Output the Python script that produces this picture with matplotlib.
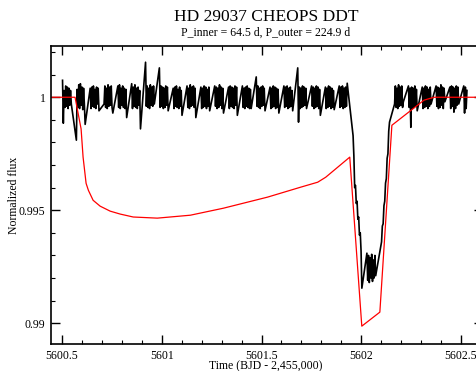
import numpy as np
import matplotlib
matplotlib.use('Agg')
import matplotlib.pyplot as plt
from matplotlib.ticker import MultipleLocator

plt.rcParams['font.family'] = ['Liberation Serif', 'DejaVu Serif']

# model light curve (red)
model_t = [5600.44, 5600.5653, 5600.5955, 5600.6055, 5600.6206, 5600.6322, 5600.6558,
           5600.6910, 5600.7412, 5600.7915, 5600.8568, 5600.9774, 5601.1432, 5601.3090,
           5601.5302, 5601.6960, 5601.7814, 5601.8216, 5601.9422, 5602.0025, 5602.0930,
           5602.1533, 5602.3141, 5602.3643, 5602.62]
model_f = [1.0, 1.0, 0.99860, 0.99735, 0.99619, 0.99588, 0.99544,
           0.99518, 0.99496, 0.99483, 0.99470, 0.99465, 0.99478, 0.99509,
           0.99558, 0.99602, 0.99624, 0.99646, 0.99735, 0.98987, 0.99049,
           0.99876, 0.99987, 1.0, 1.0]

# CHEOPS data: one block per orbit, start time and flux offsets in ppm
cadence = 0.004
orbit_start = [5600.5025, 5600.5719, 5600.6412, 5600.7106, 5600.7799, 5600.8492,
               5600.9186, 5600.9879, 5601.0573, 5601.1266, 5601.1960, 5601.2653,
               5601.3347, 5601.4040, 5601.4734, 5601.5427, 5601.6121, 5601.6814,
               5601.7508, 5601.8201, 5601.8894, 5601.9588, 5602.0281, 5602.0975,
               5602.1668, 5602.2362, 5602.3055, 5602.3749, 5602.4442, 5602.5136]
orbit_ppm = [
    [750, -1150, 300, -450, 500, -400, 450, -500, 400, -350, 300, -300],
    [-1900, 350, -450, 550, -500, 600, -350, 450, -550, 400, -300, -1200],
    [400, -500, 450, -400, 500, -450, 350, -500, 450, -300, 400, -600],
    [-300, 500, -450, 400, -500, 550, -400, 450, -350, 500, -450, -700],
    [500, -450, 550, -500, 400, -350, 500, -450, 400, -500, 350, -900],
    [600, -500, 450, -400, 550, -450, 400, -500, 450, -350, 300, -1400],
    [1550, -400, 500, -450, 400, -500, 550, -350, 450, -400, 500, -300],
    [1300, -450, 500, -400, 450, -500, 400, -450, 500, -350, 450, -600],
    [400, -500, 450, -400, 500, -450, 350, -500, 450, -400, 300, -800],
    [500, -450, 400, -500, 550, -400, 450, -350, 500, -450, 400, -900],
    [450, -500, 400, -450, 500, -400, 450, -500, 350, -400, 450, -600],
    [500, -400, 450, -500, 400, -450, 550, -350, 450, -500, 400, -700],
    [450, -500, 500, -400, 450, -450, 400, -500, 500, -350, 450, -800],
    [500, -450, 400, -500, 450, -400, 500, -450, 400, -500, 350, -500],
    [900, -400, 500, -450, 400, -500, 450, -400, 500, -350, 400, -600],
    [450, -500, 400, -450, 500, -400, 450, -500, 400, -450, 350, -700],
    [500, -450, 450, -400, 500, -500, 400, -450, 450, -400, 300, -600],
    [1300, -1100, 450, -500, 400, -450, 500, -400, 450, -350, 400, -500],
    [500, -400, 450, -500, 400, -450, 500, -400, 450, -500, 350, -800],
    [450, -500, 400, -450, 500, -400, 450, -500, 400, -450, 300, -550],
    [500, -450, 450, -400, 500, -500, 400, -450, 450, -400, 620, 300],
    [-1700, -2600, -4000, -3900, -4700, -4600, -5400, -5300, -6100, -6000, -6800, -8450],
    [-6900, -8100, -7000, -8200, -7100, -8000, -6950, -8150, -7200, -8000, -7000, -7900],
    [-6600, -6400, -5700, -5600, -4800, -4600, -3800, -3600, -2700, -2500, -1500, -1100],
    [-300, 500, -450, 400, -500, 550, -400, 450, -350, 500, -450, -200],
    [500, -450, 400, -1330, 450, -500, 400, -450, 500, -400, 350, -600],
    [450, -500, 400, -450, 500, -400, 450, -500, 350, -400, 450, -300],
    [500, -400, 450, -500, 400, -450, 550, -350, 450, -500, 400, -200],
    [450, -500, 500, -400, 450, -660, 400, -500, 500, -350, 450, -300],
    [500, -700, 450, -500, 300],
]

data_t = []
data_f = []
for t0, vals in zip(orbit_start, orbit_ppm):
    for k, v in enumerate(vals):
        data_t.append(t0 + k * cadence)
        data_f.append(1 + v * 1e-6)

fig = plt.figure(figsize=(4.77, 3.71), dpi=100)
ax = fig.add_axes([51 / 477, 27 / 371, 432 / 477, 298 / 371])

ax.plot(data_t, data_f, color='black', lw=1.2)
ax.plot(model_t, model_f, color='red', lw=0.9)

ax.set_xlim(5600.4447, 5602.61)
ax.set_ylim(0.98908, 1.002268)
ax.xaxis.set_major_locator(MultipleLocator(0.5))
ax.xaxis.set_minor_locator(MultipleLocator(0.1))
ax.yaxis.set_major_locator(MultipleLocator(0.005))
ax.yaxis.set_minor_locator(MultipleLocator(0.001))
ax.xaxis.set_major_formatter(plt.FuncFormatter(lambda v, p: ('%g' % round(v, 3))))
ax.yaxis.set_major_formatter(plt.FuncFormatter(lambda v, p: ('%g' % round(v, 4))))
ax.tick_params(which='both', direction='in', top=True, right=True, labelsize=8.5)
ax.tick_params(which='major', length=6.5, width=1.0, pad=4)
ax.tick_params(which='minor', length=3, width=0.8)
for s in ax.spines.values():
    s.set_linewidth(1.2)

fig.text(266 / 477, 1 - 369.5 / 371, 'Time (BJD - 2,455,000)', ha='center', va='baseline', fontsize=8.5)
fig.text(14 / 477, 27 / 371 + 149 / 371, 'Normalized flux', ha='center', va='center',
         rotation=90, fontsize=8.5)

fig.text(266 / 477, 1 - 20.7 / 371, 'HD 29037 CHEOPS DDT', ha='center', va='baseline', fontsize=12.5)
fig.text(266 / 477, 1 - 35.5 / 371, 'P_inner = 64.5 d, P_outer = 224.9 d', ha='center', va='baseline', fontsize=8.5)

fig.savefig('out.png', dpi=100)
